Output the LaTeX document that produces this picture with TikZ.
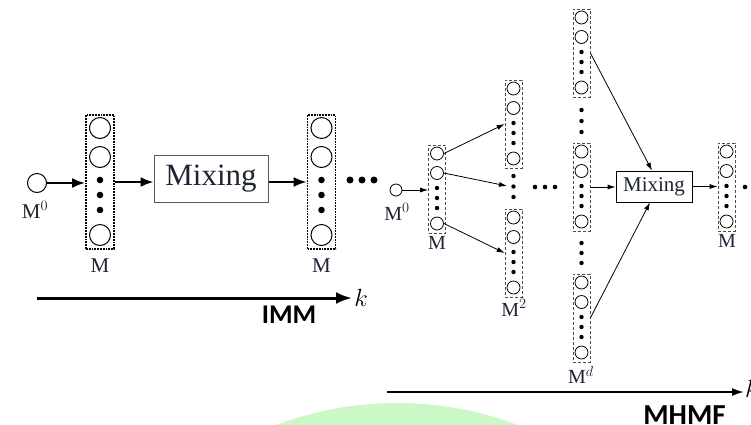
\documentclass[tikz,border=0pt]{standalone}
\usepackage{fontspec}
\setmainfont{Liberation Serif}
\newfontfamily\labfont{Carlito}
\usetikzlibrary{arrows.meta,calc}
\definecolor{ink}{HTML}{1F2433}
\definecolor{blob}{HTML}{CCF7C6}
\tikzset{
  lbox/.style={draw=black, line width=1.8pt, densely dotted, minimum width=28pt, minimum height=134pt, inner sep=0pt},
  lcirc/.style={circle, draw=black, line width=1pt, minimum size=21pt, inner sep=0pt},
  rbox/.style={draw=black!70, line width=0.7pt, densely dashed, minimum width=17pt, minimum height=88pt, inner sep=0pt},
  rcirc/.style={circle, draw=black, line width=0.8pt, minimum size=13pt, inner sep=0pt},
  llab/.style={text=ink, font=\fontsize{21}{24}\selectfont, inner sep=0pt},
  rlab/.style={text=ink, font=\fontsize{20}{22}\selectfont, inner sep=0pt},
  mixA/.style={draw=black!65, line width=1pt, minimum width=114pt, minimum height=47pt, inner sep=0pt, text=ink, font=\fontsize{31}{34}\selectfont},
  mixB/.style={draw=black, line width=0.8pt, minimum width=76pt, minimum height=31pt, inner sep=0pt, text=ink, font=\fontsize{21}{24}\selectfont},
  larrow/.style={line width=2.2pt, -{Latex[length=13pt,width=10pt]}},
  rarrow/.style={line width=0.8pt, -{Latex[length=8pt,width=5pt]}},
  axisA/.style={line width=3pt, -{Latex[length=16pt,width=12pt]}},
  axisB/.style={line width=1.8pt, -{Latex[length=12pt,width=8pt]}},
  bigtag/.style={inner sep=0pt, font=\labfont\bfseries\fontsize{27}{30}\selectfont},
  klab/.style={inner sep=0pt, font=\fontsize{30}{34}\selectfont},
}
\newcommand\mkLcol[3]{%
  \node[lbox] (#1) at (#2,#3+67) {};
  \node[lcirc] (#1-a) at (#2,#3+13) {};
  \node[lcirc] (#1-b) at (#2,#3+42) {};
  \node[lcirc] (#1-d) at (#2,#3+120) {};
  \foreach \dy in {65,80,95} \fill (#2,#3+\dy) circle (3.3pt);
}
\newcommand\mkRcol[3]{%
  \node[rbox] (#1) at (#2,#3+44) {};
  \node[rcirc] (#1-a) at (#2,#3+8.5) {};
  \node[rcirc] (#1-b) at (#2,#3+28) {};
  \node[rcirc] (#1-d) at (#2,#3+78.5) {};
  \foreach \dy in {43,53,63} \fill (#2,#3+\dy) circle (2.2pt);
}
\begin{document}
\begin{tikzpicture}[x=1pt,y=-1pt]
\useasboundingbox (0,0) rectangle (751,424);
\fill[blob] (397,743) circle (340pt);

% ---------- IMM ----------
\node[lcirc, minimum size=19pt] (m0) at (37,183) {};
\node[llab] (m0lab) at (35,210) {M$^0$};
\mkLcol{c1}{100}{115}
\node[llab] (c1lab) at (100,266) {M};
\node[mixA] (mix1) at (211,178.5) {Mixing};
\mkLcol{c2}{321.5}{115}
\node[llab] (c2lab) at (321.5,266) {M};
\foreach \xx in {350,362,374} \fill (\xx,180) circle (3.5pt);

\draw[larrow] (m0.east) -- (m0.east -| c1.west);
\draw[larrow] (c1.east) -- (c1.east -| mix1.west);
\draw[larrow] (mix1.east |- c1.east) -- (c2.west);

\coordinate (a1s) at (37,298);
\coordinate (a1e) at (352,298);
\draw[axisA] (a1s) -- (a1e);
\node[klab] (k1) at (361,298) {$k$};
\node[bigtag] (imm) at (289,315) {IMM};

% ---------- MHMF ----------
\node[rcirc, minimum size=12pt] (m0b) at (396,190) {};
\node[rlab] (m0blab) at (397,212) {M$^0$};
\mkRcol{c3}{437}{145}
\node[rlab] (c3lab) at (437,243) {M};
\mkRcol{M1}{513.5}{80}
\mkRcol{M2}{513.5}{209}
\node[rlab] (M2lab) at (514,308) {M$^2$};
\foreach \yy in {176,186.5,197} \fill (513.5,\yy) circle (2.2pt);
\foreach \xx in {535,545,555} \fill (\xx,187) circle (2.3pt);
\mkRcol{D1}{581.5}{9}
\mkRcol{D2}{581.5}{143}
\mkRcol{D3}{581.5}{274}
\foreach \yy in {110,121,132,243,253,263} \fill (581.5,\yy) circle (2.2pt);
\node[rlab] (D3lab) at (581,375) {M$^d$};
\node[mixB] (mix2) at (654,186.5) {Mixing};
\mkRcol{c5}{726.5}{143}
\node[rlab] (c5lab) at (727,241) {M};
\fill (745,187) circle (2.3pt);

\coordinate (vd) at (507,186);
\draw[rarrow] (m0b.east) -- (m0b.east -| c3.west);
\draw[rarrow] (c3-a.east) -- (M1.west);
\draw[rarrow] (c3-b.east) -- (vd);
\draw[rarrow] (c3-d.east) -- (M2.west);
\draw[rarrow] (D1.east) -- ([xshift=-2pt]mix2.north);
\draw[rarrow] (D2.east) -- (D2.east -| mix2.west);
\draw[rarrow] (D3.east) -- ([xshift=-4pt]mix2.south);
\draw[rarrow] (mix2.east) -- (mix2.east -| c5.west);

\coordinate (a2s) at (387,392);
\coordinate (a2e) at (744,392);
\draw[axisB] (a2s) -- (a2e);
\node[klab, anchor=west] (k2) at (745,389) {$k$};
\node[bigtag, font=\labfont\bfseries\fontsize{29}{32}\selectfont] (mhmf) at (684.5,415) {MHMF};
\end{tikzpicture}
\end{document}
